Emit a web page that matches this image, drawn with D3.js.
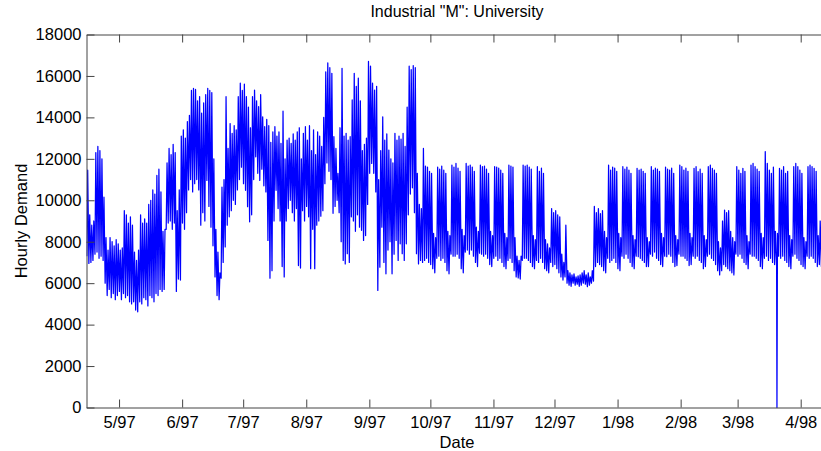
<!DOCTYPE html>
<html>
<head>
<meta charset="utf-8">
<script src="https://cdn.jsdelivr.net/npm/d3@7"></script>
<style>
  html, body { margin: 0; padding: 0; background: #fff; }
  svg { display: block; font-family: Arial, "Liberation Sans", Helvetica, sans-serif; }
</style>
</head>
<body>
<svg id="chart" width="821" height="451"></svg>
<script>
// ---- labels ----
const chartTitle = 'Industrial "M": University';
const xTitle = "Date";
const yTitle = "Hourly Demand";

// ---- daily load profile, one entry per day starting at firstDay ----
const firstDay = "1997-04-15";
// afternoon peak of each day
const dayPeak = [
  11450, 9300, 8800, 9000, 12300, 12600, 12400,
  12000, 10150, 8200, 7600, 8200, 8000, 7800,
  8100, 7900, 7600, 7700, 9500, 9300, 8900,
  9200, 8800, 7500, 7100, 7600, 9300, 8900,
  9100, 8900, 9800, 10000, 10500, 10300, 11200,
  11500, 10400, 8500, 8600, 11800, 12500, 12200,
  12700, 12300, 9500, 10500, 13100, 13400, 13000,
  13800, 14100, 15300, 15400, 15350, 14800, 15000,
  14200, 14700, 15100, 15400, 15300, 15200, 12000,
  8600, 7500, 6500, 10640, 11000, 15000, 12500,
  13700, 13230, 13600, 13400, 15000, 15650, 15300,
  15600, 15000, 14500, 13500, 15000, 15320, 14800,
  14520, 15100, 14030, 13550, 13900, 13600, 12800,
  13300, 13550, 13100, 13300, 12740, 14300, 12000,
  12900, 13000, 12740, 13200, 12900, 13300, 13500,
  12000, 13230, 13550, 12900, 13600, 12400, 13400,
  12200, 13300, 13100, 12600, 14000, 16200, 16630,
  16400, 16130, 13070, 12500, 11300, 13500, 16370,
  13100, 13230, 12900, 13070, 14840, 16130, 15500,
  15900, 14800, 12400, 12700, 13000, 16700, 16470,
  15650, 15320, 15500, 11000, 12400, 14030, 12900,
  13200, 12420, 12000, 11800, 13230, 12900, 13100,
  12950, 13230, 12600, 14500, 16470, 16300, 16500,
  16400, 11300, 9800, 9600, 12500, 11650, 11600,
  11400, 11300, 8400, 8200, 11600, 11500, 11650,
  11450, 11300, 8500, 8300, 11700, 11600, 11780,
  11550, 11400, 8600, 8300, 11780, 11650, 11700,
  11600, 11400, 8700, 8500, 11700, 11620, 11650,
  11500, 11300, 8500, 8300, 11620, 11600, 11550,
  11460, 11300, 8400, 8200, 11700, 11650, 11600,
  8200, 7300, 7100, 7300, 11700, 11650, 11700,
  11600, 11500, 8300, 8100, 11620, 11400, 11550,
  11300, 8100, 7900, 7700, 9600, 9400, 9500,
  9300, 9200, 7400, 7000, 8800, 6600, 6500,
  6400, 6450, 6300, 6350, 6400, 6500, 6600,
  6400, 6500, 6300, 6600, 9700, 9400, 9600,
  9350, 9500, 8500, 8200, 11700, 11460, 11600,
  11550, 11400, 8400, 8200, 11620, 11500, 11600,
  11450, 11300, 8300, 8100, 11540, 11460, 11500,
  11400, 11300, 8200, 8000, 11620, 11460, 11550,
  11500, 11400, 8400, 8200, 11600, 11500, 11460,
  11550, 11300, 8300, 8100, 11700, 11620, 11460,
  11550, 11400, 8400, 8200, 11540, 11620, 11380,
  11500, 11300, 8300, 8100, 11620, 11700, 11540,
  11460, 11300, 8000, 7700, 9000, 9530, 9400,
  9500, 8500, 8200, 8000, 11620, 11460, 11300,
  11540, 11400, 8300, 8000, 11700, 11780, 11620,
  11500, 11400, 8400, 8200, 12350, 11780, 11460,
  11300, 11600, 8500, 8400, 11540, 11460, 11620,
  11300, 11400, 8300, 8100, 11620, 11780, 11620,
  11460, 11300, 8200, 8000, 11620, 11700, 11620,
  11540, 11400, 8300, 9000, 9500
];
// early-morning minimum of each day
const nightLow = [
  7300, 6950, 7000, 7100, 7400, 7500, 7200,
  7300, 7100, 6000, 5400, 5700, 5300, 5500,
  5200, 5400, 5600, 5200, 5500, 5300, 5400,
  5100, 5000, 5100, 4700, 4620, 5100, 5000,
  5300, 5200, 4900, 5400, 5300, 5100, 5500,
  5400, 5700, 5600, 5700, 8600, 8900, 9000,
  8600, 8900, 5600, 6200, 6150, 8900, 8600,
  9400, 10500, 11000, 10400, 10800, 11000, 10500,
  8800, 9400, 9000, 10960, 9700, 8700, 7800,
  6300, 5400, 5200, 6240, 7000, 7750, 8800,
  9200, 9500, 10000, 9800, 10500, 11000, 11600,
  10800, 10480, 9690, 8960, 9300, 11000, 12100,
  11300, 10960, 11500, 10700, 10400, 8060, 6240,
  6600, 9000, 10480, 9600, 9000, 6800, 6300,
  9000, 9600, 10000, 9400, 9000, 9600, 6850,
  6730, 9500, 9000, 9700, 9200, 6700, 8600,
  6700, 8800, 9000, 9230, 9500, 10800, 11800,
  11400, 11000, 9370, 9700, 10000, 9400, 8000,
  7100, 6930, 7420, 7000, 9200, 9000, 8500,
  9300, 8700, 8550, 8060, 8300, 9800, 11300,
  11780, 11300, 10400, 5650, 6770, 8700, 7000,
  6450, 7600, 8000, 6450, 7400, 8060, 7100,
  7900, 7420, 7100, 7900, 9300, 10300, 10600,
  9400, 7420, 6930, 7100, 7000, 7100, 7200,
  7000, 6900, 6700, 6500, 7200, 7300, 7100,
  7200, 7000, 6600, 6450, 7400, 7300, 7300,
  7400, 7200, 6700, 6500, 7500, 7600, 7400,
  7600, 7300, 7000, 6800, 7450, 7400, 7300,
  7400, 7200, 6900, 6800, 7200, 7300, 7100,
  7200, 7000, 6800, 6700, 7100, 7200, 7000,
  6600, 6300, 6250, 6200, 7100, 7200, 7200,
  7100, 7000, 6800, 6700, 7100, 7000, 7200,
  7000, 6700, 6600, 6500, 7000, 6800, 6900,
  6700, 6500, 6300, 6150, 6300, 6000, 5900,
  5850, 6000, 5900, 5950, 5850, 5900, 6000,
  5950, 5830, 5900, 6000, 6100, 6800, 7000,
  6900, 6800, 6600, 6500, 7200, 7000, 7100,
  7200, 7000, 6700, 6600, 7300, 7200, 7400,
  7200, 7000, 6800, 6700, 7300, 7280, 7200,
  7100, 7000, 6800, 6800, 7400, 7300, 7500,
  7200, 7100, 6900, 6800, 7300, 7280, 7400,
  7300, 7000, 6800, 6850, 7400, 7300, 7300,
  7200, 7100, 6850, 6900, 7300, 7200, 7300,
  7100, 7000, 6700, 6800, 7300, 7400, 7200,
  7100, 6900, 6600, 6400, 6600, 6900, 6800,
  6700, 6600, 6500, 6400, 7400, 7300, 7400,
  7200, 7000, 6900, 6700, 7400, 7300, 7300,
  7200, 7100, 6800, 6700, 7200, 7300, 7100,
  7200, 7000, 6900, 6800, 7300, 7200, 7300,
  7100, 7000, 6800, 6700, 7300, 7400, 7200,
  7100, 6900, 6800, 6700, 7300, 7200, 7300,
  7200, 7000, 6800, 6900, 6800
];
// metering dropout
const dropouts = [{ time: "1998-03-20T08:00", value: 0 }];

// ---- axes ----
const monthTicks = [
  "1997-05-01", "1997-06-01", "1997-07-01", "1997-08-01", "1997-09-01", "1997-10-01",
  "1997-11-01", "1997-12-01", "1998-01-01", "1998-02-01", "1998-03-01", "1998-04-01"
];
const demandTicks = [0, 2000, 4000, 6000, 8000, 10000, 12000, 14000, 16000, 18000];
const axisEnd = "1998-04-14T10:00";

// ---- layout ----
const plot = { left: 86.5, right: 828, top: 34.5, bottom: 407.5 };
const parseDay = d3.timeParse("%Y-%m-%d");
const parseTime = d3.timeParse("%Y-%m-%dT%H:%M");

const start = parseDay(firstDay);
const x = d3.scaleTime()
  .domain([start, parseTime(axisEnd)])
  .range([plot.left, plot.right]);
const y = d3.scaleLinear()
  .domain([0, 18000])
  .range([plot.bottom, plot.top]);

// hourly-style trace: night minimum at 04:00, afternoon peak at 14:00
const series = [];
dayPeak.forEach((p, i) => {
  const day = d3.timeDay.offset(start, i);
  series.push({ t: d3.timeHour.offset(day, 4), v: nightLow[i] });
  series.push({ t: d3.timeHour.offset(day, 14), v: p });
});
dropouts.forEach(d => series.push({ t: parseTime(d.time), v: d.value }));
series.sort((a, b) => a.t - b.t);

const svg = d3.select("#chart");

svg.append("defs").append("clipPath").attr("id", "plotClip")
  .append("rect")
  .attr("x", plot.left).attr("y", plot.top - 1)
  .attr("width", plot.right - plot.left).attr("height", plot.bottom - plot.top + 2);

// demand trace
svg.append("path")
  .datum(series)
  .attr("clip-path", "url(#plotClip)")
  .attr("fill", "none")
  .attr("stroke", "#0000ff")
  .attr("stroke-width", 1.25)
  .attr("stroke-linejoin", "round")
  .attr("d", d3.line().x(d => x(d.t)).y(d => y(d.v)));

const axisColor = "#444";
const fontSize = "16.5px";
const monthDates = monthTicks.map(parseDay);

const xAxis = svg.append("g")
  .attr("transform", `translate(0,${plot.bottom})`)
  .call(d3.axisBottom(x)
    .tickValues(monthDates)
    .tickFormat(d3.timeFormat("%-m/%y"))
    .tickSizeInner(-8).tickSizeOuter(0).tickPadding(9));

const xAxisTop = svg.append("g")
  .attr("transform", `translate(0,${plot.top})`)
  .call(d3.axisTop(x)
    .tickValues(monthDates)
    .tickFormat("")
    .tickSizeInner(-8).tickSizeOuter(0));

const yAxis = svg.append("g")
  .attr("transform", `translate(${plot.left},0)`)
  .call(d3.axisLeft(y)
    .tickValues(demandTicks)
    .tickFormat(d3.format("d"))
    .tickSizeInner(-8).tickSizeOuter(0).tickPadding(5));

[xAxis, xAxisTop, yAxis].forEach(g => {
  g.selectAll("path.domain").attr("stroke", axisColor).attr("stroke-width", 1);
  g.selectAll(".tick line").attr("stroke", axisColor).attr("stroke-width", 1);
  g.selectAll(".tick text")
    .attr("fill", "#000")
    .style("font-size", fontSize)
    .style("font-family", 'Arial, "Liberation Sans", Helvetica, sans-serif');
});

// titles
svg.append("text")
  .attr("x", 457).attr("y", 17)
  .attr("text-anchor", "middle")
  .style("font-size", "16px")
  .attr("fill", "#000")
  .text(chartTitle);

svg.append("text")
  .attr("x", 457).attr("y", 448)
  .attr("text-anchor", "middle")
  .style("font-size", "16.5px")
  .attr("fill", "#000")
  .text(xTitle);

svg.append("text")
  .attr("transform", `translate(27,${(plot.top + plot.bottom) / 2}) rotate(-90)`)
  .attr("text-anchor", "middle")
  .style("font-size", "16.5px")
  .attr("fill", "#000")
  .text(yTitle);
</script>
</body>
</html>
